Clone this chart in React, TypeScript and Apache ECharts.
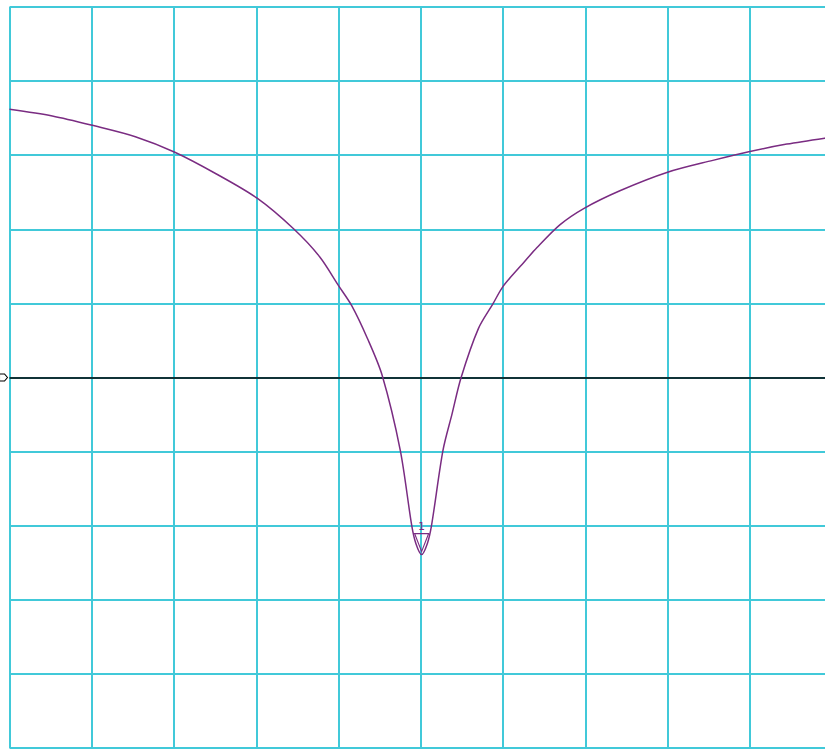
import React, { useEffect, useRef } from "react";
import * as echarts from "echarts";

// Trace values: x in horizontal divisions (0..10), y in vertical divisions (-5..5, 0 = reference line)
const traceX = [
  0.0, 0.52, 1.02, 1.53, 2.01, 2.51, 3.01, 3.45, 3.77, 4.0, 4.16, 4.35, 4.53, 4.75, 4.89, 4.94, 5.01,
  5.08, 5.13, 5.27, 5.38, 5.49, 5.7, 5.88, 6.0, 6.21, 6.41, 6.69, 6.98, 7.42, 8.0, 8.55, 9.0, 9.45, 9.91, 10.0,
];
const traceY = [
  3.62, 3.53, 3.4, 3.25, 3.04, 2.75, 2.42, 2.01, 1.63, 1.24, 0.97, 0.53, 0.03, -0.98, -2.0, -2.24, -2.39,
  -2.24, -2.0, -0.98, -0.49, 0.0, 0.66, 1.0, 1.23, 1.5, 1.75, 2.06, 2.28, 2.52, 2.77, 2.93, 3.05, 3.15, 3.23, 3.24,
];
const markerLabel = "1";
const markerIndex = 16;
const referenceLevel = 0;

export default function App() {
  const ref = useRef<HTMLDivElement>(null);
  useEffect(() => {
    if (!ref.current) return;
    const chart = echarts.init(ref.current, null, { renderer: "svg" });
    const data = traceX.map((x, i) => [x, traceY[i]]);
    const gridColor = "#41c9d9";
    const traceColor = "#7a2c82";
    chart.setOption({
      animation: false,
      backgroundColor: "#ffffff",
      grid: { left: 9.5, top: 7, width: 822.6, height: 741, containLabel: false },
      xAxis: {
        type: "value",
        min: 0,
        max: 10,
        interval: 1,
        axisLine: { show: false },
        axisTick: { show: false },
        axisLabel: { show: false },
        splitLine: { show: true, lineStyle: { color: gridColor, width: 2 } },
      },
      yAxis: {
        type: "value",
        min: -5,
        max: 5,
        interval: 1,
        axisLine: { show: false },
        axisTick: { show: false },
        axisLabel: { show: false },
        splitLine: { show: true, lineStyle: { color: gridColor, width: 2 } },
      },
      series: [
        {
          type: "line",
          data,
          showSymbol: false,
          smooth: 0.3,
          lineStyle: { color: traceColor, width: 1.5 },
          z: 5,
          markLine: {
            silent: true,
            symbol: ["none", "none"],
            label: { show: false },
            lineStyle: { color: "#000000", width: 1.5, type: "solid" },
            data: [{ yAxis: referenceLevel }],
            z: 4,
          },
          markPoint: {
            silent: true,
            data: [
              {
                coord: data[markerIndex],
                symbol: "path://M0,0 L14,0 L7,18 Z",
                symbolSize: [14, 18],
                symbolOffset: [0, -12],
                itemStyle: { color: "rgba(255,255,255,0)", borderColor: traceColor, borderWidth: 1.2 },
                label: {
                  show: true,
                  formatter: markerLabel,
                  position: "top",
                  distance: 1,
                  color: traceColor,
                  fontSize: 11,
                  fontFamily: "DejaVu Sans",
                },
              },
              {
                coord: [0, referenceLevel],
                symbol: "path://M0,0 L5,0 L8,3 L5,6 L0,6 Z",
                symbolSize: [8, 7],
                symbolOffset: [-6, 0],
                itemStyle: { color: "#ffffff", borderColor: "#000000", borderWidth: 1 },
                label: { show: false },
              },
            ],
          },
        },
      ],
    });
    return () => chart.dispose();
  }, []);
  return (
    <div style={{ position: "absolute", left: 0, top: 0, width: 825, height: 752, overflow: "hidden", background: "#fff" }}>
      <div ref={ref} style={{ width: 845, height: 752 }} />
    </div>
  );
}
